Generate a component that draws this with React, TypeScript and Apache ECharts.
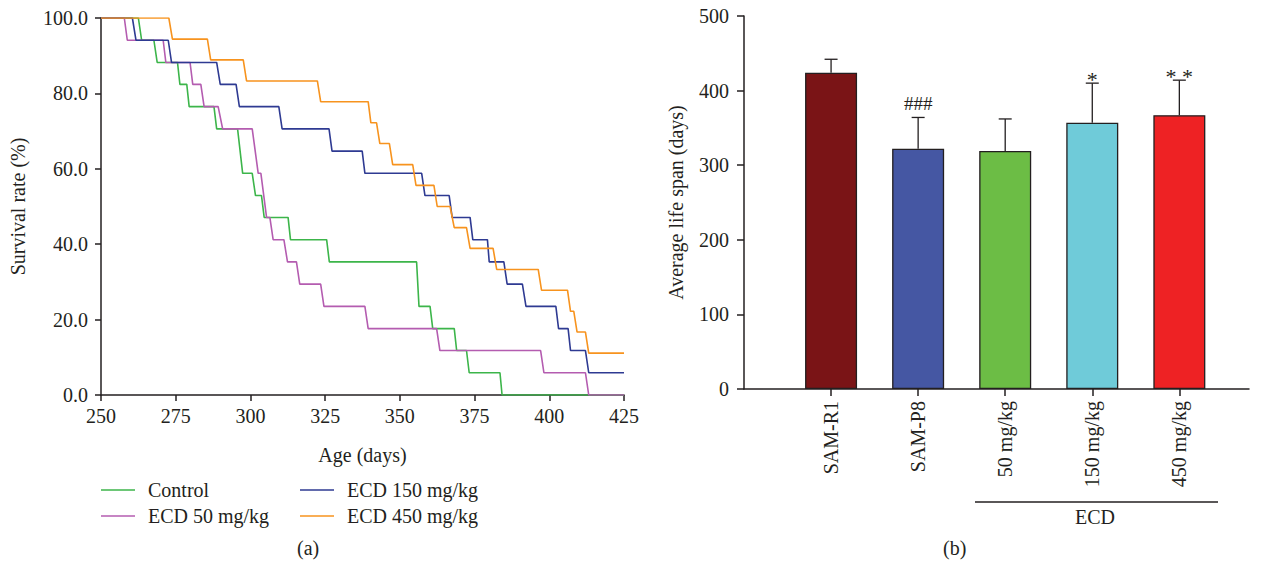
import React, { useEffect, useRef } from 'react';
import * as echarts from 'echarts';

// ---------- Data (a): Kaplan–Meier survival curves, [age in days, survival %] ----------
const controlCurve: [number, number][] = [
  [250, 100], [262.5, 100], [263.6, 94.1], [267.7, 94.1], [268.8, 88.2], [275.6, 88.2], [276.4, 82.4],
  [278.7, 82.4], [279.5, 76.5], [287.8, 76.5], [288.7, 70.6], [295.7, 70.6], [297.4, 58.8], [300.6, 58.8],
  [301.7, 52.9], [303.7, 52.9], [304.6, 47.1], [312.6, 47.1], [313.4, 41.2], [325.5, 41.2], [326.4, 35.3],
  [355.6, 35.3], [356.4, 23.5], [360.1, 23.5], [361.0, 17.6], [368.2, 17.6], [369.0, 11.8], [372.3, 11.8],
  [373.2, 5.9], [383.5, 5.9], [384.2, 0], [425, 0],
];
const ecd50Curve: [number, number][] = [
  [250, 100], [257.8, 100], [258.8, 94.1], [270.8, 94.1], [271.7, 88.2], [279.8, 88.2], [280.7, 82.4],
  [283.4, 82.4], [284.5, 76.5], [289.2, 76.5], [290.7, 70.6], [300.6, 70.6], [302.6, 58.8], [303.5, 58.8],
  [305.4, 47.1], [306.5, 47.1], [307.6, 41.2], [311.2, 41.2], [312.4, 35.3], [315.4, 35.3], [316.5, 29.4],
  [323.5, 29.4], [324.6, 23.5], [338.3, 23.5], [339.4, 17.6], [362.3, 17.6], [363.4, 11.8], [397.1, 11.8],
  [398.2, 5.9], [412.1, 5.9], [413.2, 0], [425, 0],
];
const ecd150Curve: [number, number][] = [
  [250, 100], [260.5, 100], [261.7, 94.1], [272.5, 94.1], [273.6, 88.2], [288.7, 88.2], [289.9, 82.4],
  [295.2, 82.4], [296.3, 76.5], [309.5, 76.5], [310.6, 70.6], [326.3, 70.6], [327.3, 64.7], [337.4, 64.7],
  [338.3, 58.8], [357.3, 58.8], [358.4, 52.9], [366.5, 52.9], [367.5, 47.1], [373.5, 47.1], [374.4, 41.2],
  [379.3, 41.2], [379.9, 35.3], [384.8, 35.3], [385.9, 29.4], [391.0, 29.4], [392.2, 23.5], [402.2, 23.5],
  [403.1, 17.6], [406.3, 17.6], [407.1, 11.8], [412.1, 11.8], [413.2, 5.9], [425, 5.9],
];
const ecd450Curve: [number, number][] = [
  [250, 100], [272.7, 100], [273.9, 94.4], [285.6, 94.4], [286.7, 88.9], [297.6, 88.9], [298.7, 83.3],
  [322.4, 83.3], [323.5, 77.8], [339.4, 77.8], [340.3, 72.2], [342.2, 72.2], [343.3, 66.7], [346.5, 66.7],
  [347.6, 61.1], [354.3, 61.1], [355.4, 55.6], [361.4, 55.6], [362.5, 50.0], [366.8, 50.0], [368.2, 44.4],
  [372.3, 44.4], [373.5, 38.9], [381.2, 38.9], [382.4, 33.3], [396.3, 33.3], [397.4, 27.8], [406.1, 27.8],
  [407.1, 22.2], [408.2, 22.2], [409.3, 16.7], [412.1, 16.7], [413.2, 11.1], [425, 11.1],
];
const curveNames = ['Control', 'ECD 50 mg/kg', 'ECD 150 mg/kg', 'ECD 450 mg/kg'];

// ---------- Data (b): average life span ----------
const groups = ['SAM-R1', 'SAM-P8', '50 mg/kg', '150 mg/kg', '450 mg/kg'];
const groupPositions = [1, 2, 3, 4, 5];
const meanLifeSpan = [424, 322, 319, 357, 367];
const upperError = [442, 364, 362, 410, 414];
const significance = ['', '###', '', '*', '**'];

const INK = '#231f20';
const FONT = '"Liberation Serif", "DejaVu Serif", serif';
const FS = 20;
const curveColors = ['#3cb54a', '#b45cb0', '#2e3a92', '#f7931e'];
const barColors = ['#7a1416', '#4557a3', '#6cbd45', '#6fcbd9', '#ee2224'];

export default function App() {
  const ref = useRef<HTMLDivElement>(null);

  useEffect(() => {
    document.body.style.margin = '0';
    const chart = echarts.init(ref.current!, null, { renderer: 'svg' });
    const curves = [controlCurve, ecd50Curve, ecd150Curve, ecd450Curve];
    const legendPos = [
      { left: 101, top: 480 },
      { left: 101, top: 506 },
      { left: 300, top: 480 },
      { left: 300, top: 506 },
    ];

    const axisLine = { show: true, lineStyle: { color: INK, width: 1.5 } };
    const axisTick = { show: true, length: 6, lineStyle: { color: INK, width: 1.5 } };
    const txt = { fontSize: FS, fontFamily: FONT, color: INK };

    chart.setOption({
      animation: false,
      backgroundColor: '#ffffff',
      textStyle: { fontFamily: FONT, color: INK },
      grid: [
        { left: 101, top: 18, width: 523, height: 377 },
        { left: 744, top: 16, width: 505, height: 373 },
      ],
      legend: curveNames.map((n, i) => ({
        data: [n],
        left: legendPos[i].left,
        top: legendPos[i].top,
        padding: 0,
        icon: 'rect',
        itemWidth: 34,
        itemHeight: 1.5,
        selectedMode: false,
        textStyle: { ...txt, padding: [0, 0, 0, 8] },
      })),
      xAxis: [
        {
          gridIndex: 0, type: 'value', min: 250, max: 425, interval: 25,
          axisLine, axisTick, splitLine: { show: false },
          axisLabel: { ...txt, margin: 11 },
          name: 'Age (days)', nameLocation: 'middle', nameGap: 50,
          nameTextStyle: txt,
        },
        {
          gridIndex: 1, type: 'value', min: 0, max: 5.8,
          axisLine, splitLine: { show: false },
          axisTick: { ...axisTick, length: 7, customValues: groupPositions },
          axisLabel: {
            ...txt, customValues: groupPositions, rotate: 90, margin: 12,
            formatter: (v: number) => groups[Math.round(v) - 1] ?? '',
          },
        },
      ],
      yAxis: [
        {
          gridIndex: 0, type: 'value', min: 0, max: 100, interval: 20,
          axisLine, axisTick, splitLine: { show: false },
          axisLabel: { ...txt, margin: 13, formatter: (v: number) => v.toFixed(1) },
          name: 'Survival rate (%)', nameLocation: 'middle', nameGap: 73,
          nameTextStyle: txt,
        },
        {
          gridIndex: 1, type: 'value', min: 0, max: 500, interval: 100,
          axisLine, axisTick: { ...axisTick, length: 7 }, splitLine: { show: false },
          axisLabel: { ...txt, margin: 15 },
          name: 'Average life span (days)', nameLocation: 'middle', nameGap: 58,
          nameTextStyle: txt,
        },
      ],
      series: [
        ...curves.map((c, i) => ({
          type: 'line', name: curveNames[i], xAxisIndex: 0, yAxisIndex: 0,
          data: c, showSymbol: false, symbol: 'none',
          color: curveColors[i],
          lineStyle: { color: curveColors[i], width: 1.6 },
          z: 2 + i,
        })),
        {
          type: 'bar', xAxisIndex: 1, yAxisIndex: 1, barWidth: 52,
          data: groups.map((g, i) => ({
            value: [groupPositions[i], meanLifeSpan[i]],
            itemStyle: { color: barColors[i], borderColor: INK, borderWidth: 1.3 },
          })),
        },
        {
          type: 'custom', xAxisIndex: 1, yAxisIndex: 1,
          data: groups.map((g, i) => [groupPositions[i], meanLifeSpan[i], upperError[i], i]),
          renderItem: (params: any, api: any) => {
            const x = api.value(0);
            const base = api.coord([x, api.value(1)]);
            const top = api.coord([x, api.value(2)]);
            const idx = api.value(3);
            const style = { stroke: INK, lineWidth: 1.3 };
            const children: any[] = [
              { type: 'line', shape: { x1: base[0], y1: base[1], x2: top[0], y2: top[1] }, style },
              { type: 'line', shape: { x1: top[0] - 6.5, y1: top[1], x2: top[0] + 6.5, y2: top[1] }, style },
            ];
            const mark = significance[idx];
            if (mark) {
              const isStar = mark.includes('*');
              children.push({
                type: 'text',
                style: {
                  text: isStar ? mark.split('').join(' ') : mark,
                  x: top[0], y: top[1] - (isStar ? -7 : 4),
                  textAlign: 'center', textVerticalAlign: 'bottom',
                  font: `${isStar ? 22 : 19}px ${FONT}`, fill: INK,
                },
              });
            }
            return { type: 'group', children };
          },
          z: 5,
        },
      ],
      graphic: [
        { type: 'text', left: 297, top: 538, style: { text: '(a)', font: `${FS}px ${FONT}`, fill: INK } },
        { type: 'text', left: 943, top: 538, style: { text: '(b)', font: `${FS}px ${FONT}`, fill: INK } },
        { type: 'line', shape: { x1: 975, y1: 502, x2: 1218, y2: 502 }, style: { stroke: INK, lineWidth: 1.3 } },
        { type: 'text', left: 1075, top: 507, style: { text: 'ECD', font: `${FS}px ${FONT}`, fill: INK } },
      ],
    });
    return () => chart.dispose();
  }, []);

  return <div ref={ref} style={{ width: 1264, height: 571 }} />;
}
